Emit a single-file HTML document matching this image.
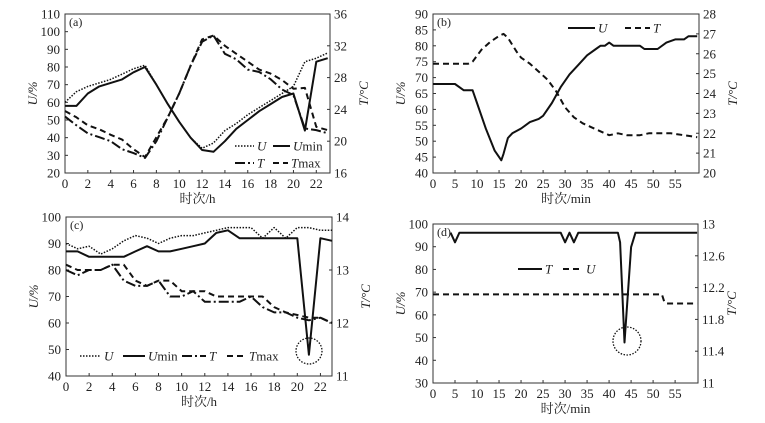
<!DOCTYPE html>
<html><head><meta charset="utf-8">
<style>
body{margin:0;background:#fff;}
svg{display:block;font-family:"Liberation Serif","Noto Serif CJK SC",serif;}
</style></head>
<body>
<svg id="chart" width="765" height="423" viewBox="0 0 765 423" xmlns="http://www.w3.org/2000/svg"></svg>
<script>
// ---- Panel (a) data ----
const aHours = [0,1,2,3,4,5,6,7,8,9,10,11,12,13,14,15,16,17,18,19,20,21,22,23];
const aU    = [60,66,69,71,73,76,79,81,70,59,49,40,34,37,44,48,53,57,61,65,69,83,85,88];
const aUmin = [58,58,65,69,71,73,77,80,70,59,49,40,33,32,38,45,50,55,59,63,65,44,83,85];
const aT    = [23.1,22,21,20.5,20,19,18.5,17.9,20,23,26,29.5,32.5,33.3,31,30.3,29,28.7,27.8,26.5,25.8,21.6,21.4,21];
const aTmax = [23.8,23,22,21.5,20.8,20.2,19,18,20.5,23,26,29.5,32.8,33.3,32,31,30,29,28.5,27.7,26.6,26.7,21.8,21.4];
const aLeftTicks = [20,30,40,50,60,70,80,90,100,110];
const aRightTicks = [16,20,24,28,32,36];
const aXTicks = [0,2,4,6,8,10,12,14,16,18,20,22];
// ---- Panel (b) data ----
const bMinU = [0,5,7,9,10,12,14,15,15.5,16,17,18,20,22,24,25,27,29,31,33,35,37,38,39,40,41,47,48,51,53,55,57,58,60];
const bU    = [68,68,66,66,62,54,47,45,44,46,51,52.5,54,56,57,58,62,67,71,74,77,79,80,80,81,80,80,79,79,81,82,82,83,83];
const bMinT = [0,8,9,11,13,15,16,17,19,20,22,24,26,28,30,32,34,36,38,40,42,44,47,49,54,57,60];
const bT    = [25.5,25.5,25.6,26.2,26.6,26.9,27,26.8,26.1,25.8,25.5,25.1,24.7,24.1,23.3,22.8,22.5,22.3,22.1,21.9,22,21.9,21.9,22,22,21.9,21.8];
const bLeftTicks = [40,45,50,55,60,65,70,75,80,85,90];
const bRightTicks = [20,21,22,23,24,25,26,27,28];
const bXTicks = [0,5,10,15,20,25,30,35,40,45,50,55];
// ---- Panel (c) data ----
const cHours = [0,1,2,3,4,5,6,7,8,9,10,11,12,13,14,15,16,17,18,19,20,21,22,23];
const cU    = [90,88,89,86,88,91,93,92,90,92,93,93,94,95,96,96,96,92,96,92,96,96,95,95];
const cUmin = [87,87,85,85,85,85,87,89,87,87,88,89,90,94,95,92,92,92,92,92,92,48,92,91];
const cT    = [13.0,12.9,13.0,13.0,13.1,12.8,12.7,12.7,12.8,12.5,12.5,12.6,12.4,12.4,12.4,12.4,12.5,12.3,12.2,12.2,12.1,12.05,12.1,12.0];
const cTmax = [13.1,13.0,13.0,13.0,13.1,13.1,12.8,12.7,12.8,12.8,12.6,12.6,12.6,12.5,12.5,12.5,12.5,12.5,12.3,12.2,12.15,12.1,12.1,12.0];
const cLeftTicks = [40,50,60,70,80,90,100];
const cRightTicks = [11,12,13,14];
const cXTicks = [0,2,4,6,8,10,12,14,16,18,20,22];
// ---- Panel (d) data ----
const dMinT = [4,5,6,29,30,31,32,33,42,42.5,43.5,45,46,60];
const dT    = [12.89,12.77,12.89,12.89,12.77,12.89,12.77,12.89,12.89,12.77,11.51,12.71,12.89,12.89];
const dMinU = [0,52,52.5,53,60];
const dU    = [69,69,66,65,65];
const dLeftTicks = [30,40,50,60,70,80,90,100];
const dRightTicks = [11,11.4,11.8,12.2,12.6,13];
const dRightLabels = ["11","11.4","11.8","12.2","12.6","13"];
const dXTicks = [0,5,10,15,20,25,30,35,40,45,50,55];

const svg = document.getElementById('chart');
const NS = 'http://www.w3.org/2000/svg';
function mk(tag, attrs, parent){
  const e = document.createElementNS(NS, tag);
  for (const k in attrs) e.setAttribute(k, attrs[k]);
  (parent||svg).appendChild(e);
  return e;
}
function txt(s, x, y, anchor, size, parent){
  const t = mk('text', {x:x, y:y, 'text-anchor':anchor, 'font-size':size, fill:'#222'}, parent);
  t.textContent = s;
  return t;
}
const styles = {
  solid:{dash:'', w:2},
  dotted:{dash:'1.5 1.5', w:1.5},
  dashed:{dash:'6 4', w:2},
  dashdot:{dash:'10 3 2 3', w:2}
};
function panel(p){
  const g = mk('g', {});
  
  
  const X = v => p.L + (v - p.x0) / (p.x1 - p.x0) * (p.R - p.L);
  const YL = v => p.B - (v - p.yl0) / (p.yl1 - p.yl0) * (p.B - p.T);
  const YR = v => p.B - (v - p.yr0) / (p.yr1 - p.yr0) * (p.B - p.T);
  const frame = mk('rect', {x:p.L, y:p.T, width:p.R-p.L, height:p.B-p.T, fill:'none', stroke:'#333', 'stroke-width':1}, g);
  
  
  p.leftTicks.forEach(v => {
    const y = YL(v);
    mk('line', {x1:p.L, x2:p.L+3, y1:y, y2:y, stroke:'#333'}, g);
    const t = txt(String(v), p.L-5, y+4.5, 'end', 13, g);
    
    
  });
  p.rightTicks.forEach((v,i) => {
    const y = YR(v);
    mk('line', {x1:p.R-3, x2:p.R, y1:y, y2:y, stroke:'#333'}, g);
    const t = txt(p.rightLabels ? p.rightLabels[i] : String(v), p.R+4, y+4.5, 'start', 13, g);
    
    
  });
  p.xTicks.forEach(v => {
    const x = X(v);
    mk('line', {x1:x, x2:x, y1:p.B, y2:p.B-3, stroke:'#333'}, g);
    const t = txt(String(v), x, p.B+15, 'middle', 13, g);
    
    
  });
  const xt = txt(p.xTitle, (p.L+p.R)/2, p.B+30, 'middle', 13, g);
  
  
  const yl = mk('text', {x:0, y:0, 'text-anchor':'middle', 'font-size':13, fill:'#222', 'font-style':'italic',
    transform:'translate('+(p.L-28)+','+((p.T+p.B)/2)+') rotate(-90)'}, g);
  yl.textContent = 'U/%';
  
  
  const yr = mk('text', {x:0, y:0, 'text-anchor':'middle', 'font-size':13, fill:'#222', 'font-style':'italic',
    transform:'translate('+(p.R+38)+','+((p.T+p.B)/2)+') rotate(-90)'}, g);
  yr.textContent = 'T/°C';
  
  
  const lab = txt(p.label, p.L+4, p.T+12, 'start', 12, g);
  
  
  p.series.forEach(s => {
    const Y = s.axis === 'R' ? YR : YL;
    const pts = s.xs.map((x,i) => X(x).toFixed(1)+','+Y(s.ys[i]).toFixed(1)).join(' ');
    const st = styles[s.style];
    const l = mk('polyline', {points:pts, fill:'none', stroke:'#111', 'stroke-width':st.w, 'stroke-dasharray':st.dash, 'stroke-linejoin':'round'}, g);
    
    
  });
  p.legend.forEach(e => {
    const st = styles[e.style];
    const l = mk('line', {x1:e.x1, x2:e.x2, y1:e.y, y2:e.y, stroke:'#111', 'stroke-width':st.w, 'stroke-dasharray':st.dash}, g);
    
    
    const t = mk('text', {x:e.x2+3, y:e.y+4.5, 'font-size':13, fill:'#222'}, g);
    const it = mk('tspan', {'font-style':'italic'}, t); it.textContent = e.main;
    if (e.sub){ const s2 = mk('tspan', {}, t); s2.textContent = e.sub; }
    
    
  });
  if (p.circle){
    const c = mk('circle', {cx:p.circle[0], cy:p.circle[1], r:p.circle[2], fill:'none', stroke:'#111', 'stroke-width':1.3, 'stroke-dasharray':'1.5 1.5'}, g);
    
    
  }
}
panel({name:'panel-a', label:'(a)', L:65, R:330, T:14, B:173, x0:0, x1:23.2, yl0:20, yl1:110, yr0:16, yr1:36,
  leftTicks:aLeftTicks, rightTicks:aRightTicks, xTicks:aXTicks, xTitle:'时次/h',
  series:[
    {name:'series-u', xs:aHours, ys:aU, axis:'L', style:'dotted'},
    {name:'series-umin', xs:aHours, ys:aUmin, axis:'L', style:'solid'},
    {name:'series-t', xs:aHours, ys:aT, axis:'R', style:'dashdot'},
    {name:'series-tmax', xs:aHours, ys:aTmax, axis:'R', style:'dashed'}],
  legend:[
    {x1:235,x2:254,y:146,style:'dotted',main:'U'},
    {x1:273,x2:290,y:146,style:'solid',main:'U',sub:'min'},
    {x1:235,x2:254,y:163,style:'dashdot',main:'T'},
    {x1:273,x2:288,y:163,style:'dashed',main:'T',sub:'max'}]});
panel({name:'panel-b', label:'(b)', L:433, R:699, T:14, B:173, x0:0, x1:60.4, yl0:40, yl1:90, yr0:20, yr1:28,
  leftTicks:bLeftTicks, rightTicks:bRightTicks, xTicks:bXTicks, xTitle:'时次/min',
  series:[
    {name:'series-u', xs:bMinU, ys:bU, axis:'L', style:'solid'},
    {name:'series-t', xs:bMinT, ys:bT, axis:'R', style:'dashed'}],
  legend:[
    {x1:568,x2:595,y:28,style:'solid',main:'U'},
    {x1:625,x2:650,y:28,style:'dashed',main:'T'}]});
panel({name:'panel-c', label:'(c)', L:66, R:332, T:217, B:376, x0:0, x1:23.0, yl0:40, yl1:100, yr0:11, yr1:14,
  leftTicks:cLeftTicks, rightTicks:cRightTicks, xTicks:cXTicks, xTitle:'时次/h',
  series:[
    {name:'series-u', xs:cHours, ys:cU, axis:'L', style:'dotted'},
    {name:'series-umin', xs:cHours, ys:cUmin, axis:'L', style:'solid'},
    {name:'series-t', xs:cHours, ys:cT, axis:'R', style:'dashdot'},
    {name:'series-tmax', xs:cHours, ys:cTmax, axis:'R', style:'dashed'}],
  legend:[
    {x1:80,x2:101,y:356,style:'dotted',main:'U'},
    {x1:123,x2:145,y:356,style:'solid',main:'U',sub:'min'},
    {x1:182,x2:206,y:356,style:'dashdot',main:'T'},
    {x1:227,x2:246,y:356,style:'dashed',main:'T',sub:'max'}],
  circle:[309,351,13]});
panel({name:'panel-d', label:'(d)', L:433, R:698, T:224, B:383, x0:0, x1:60.2, yl0:30, yl1:100, yr0:11, yr1:13,
  leftTicks:dLeftTicks, rightTicks:dRightTicks, rightLabels:dRightLabels, xTicks:dXTicks, xTitle:'时次/min',
  series:[
    {name:'series-t', xs:dMinT, ys:dT, axis:'R', style:'solid'},
    {name:'series-u', xs:dMinU, ys:dU, axis:'L', style:'dashed'}],
  legend:[
    {x1:518,x2:542,y:269,style:'solid',main:'T'},
    {x1:563,x2:583,y:269,style:'dashed',main:'U'}],
  circle:[627,341,14]});
</script>
</body></html>
